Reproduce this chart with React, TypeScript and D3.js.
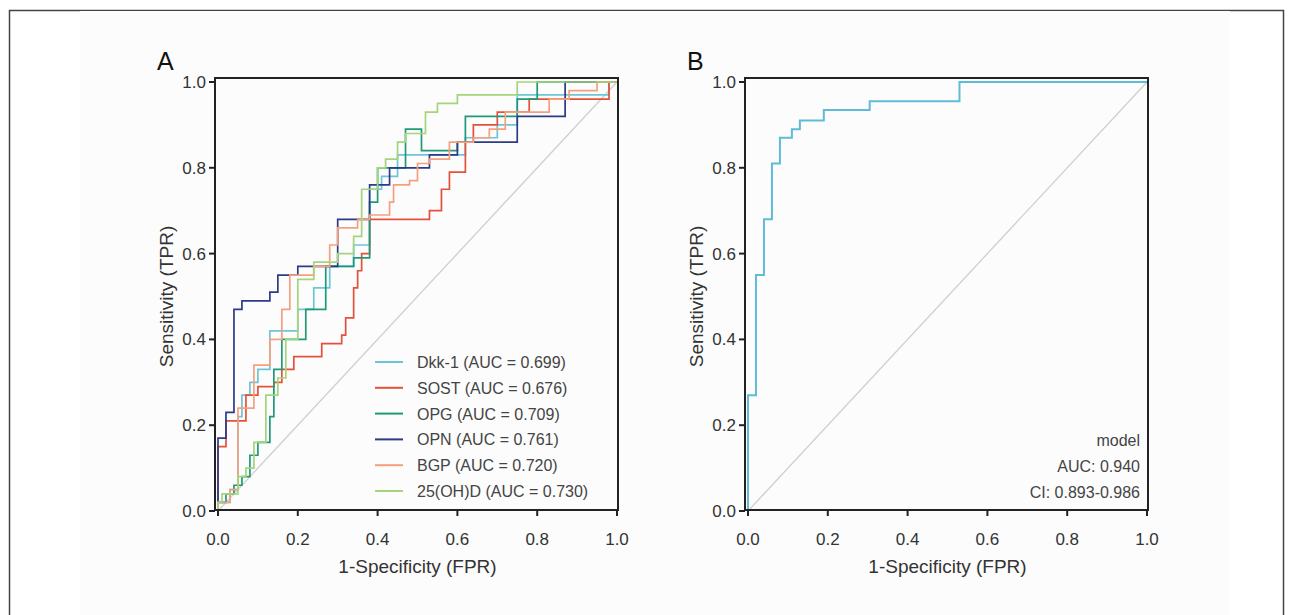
import React from 'react';
import * as d3 from 'd3';

type Pt = [number, number];

// ROC step points (fpr, tpr); drawn with curveStepBefore
const dkk1: Pt[] = [[0, 0], [0.03, 0.02], [0.05, 0.05], [0.06, 0.22], [0.08, 0.27], [0.1, 0.3], [0.13, 0.33], [0.2, 0.42], [0.24, 0.47], [0.28, 0.52], [0.34, 0.57], [0.38, 0.62], [0.41, 0.75], [0.45, 0.78], [0.62, 0.83], [0.7, 0.87], [0.75, 0.9], [0.98, 0.97], [1, 1]];
const sost: Pt[] = [[0, 0], [0.02, 0.15], [0.04, 0.21], [0.07, 0.21], [0.1, 0.27], [0.14, 0.29], [0.16, 0.3], [0.19, 0.33], [0.24, 0.36], [0.26, 0.36], [0.31, 0.39], [0.32, 0.41], [0.34, 0.45], [0.35, 0.52], [0.36, 0.56], [0.38, 0.6], [0.53, 0.68], [0.56, 0.7], [0.58, 0.75], [0.62, 0.79], [0.64, 0.86], [0.7, 0.9], [0.78, 0.93], [0.98, 0.96], [1, 1]];
const opg: Pt[] = [[0, 0], [0.02, 0.02], [0.04, 0.04], [0.06, 0.06], [0.08, 0.08], [0.1, 0.13], [0.13, 0.16], [0.14, 0.22], [0.16, 0.33], [0.22, 0.4], [0.27, 0.47], [0.34, 0.57], [0.38, 0.59], [0.4, 0.72], [0.47, 0.8], [0.51, 0.89], [0.6, 0.84], [0.62, 0.86], [0.75, 0.92], [0.8, 0.96], [1, 1]];
const opn: Pt[] = [[0, 0], [0.02, 0.17], [0.04, 0.23], [0.06, 0.47], [0.13, 0.49], [0.15, 0.51], [0.2, 0.55], [0.3, 0.57], [0.34, 0.68], [0.38, 0.68], [0.43, 0.76], [0.53, 0.8], [0.6, 0.83], [0.75, 0.86], [0.87, 0.92], [0.87, 0.95], [1, 1]];
const bgp: Pt[] = [[0, 0], [0.03, 0.02], [0.05, 0.05], [0.09, 0.24], [0.13, 0.34], [0.16, 0.4], [0.18, 0.47], [0.24, 0.55], [0.28, 0.57], [0.3, 0.62], [0.35, 0.66], [0.38, 0.68], [0.43, 0.69], [0.44, 0.72], [0.48, 0.76], [0.5, 0.77], [0.53, 0.81], [0.58, 0.82], [0.64, 0.86], [0.68, 0.87], [0.72, 0.89], [0.83, 0.93], [0.88, 0.96], [0.95, 0.98], [1, 1]];
const ohd: Pt[] = [[0, 0], [0.01, 0.02], [0.05, 0.04], [0.07, 0.08], [0.09, 0.1], [0.12, 0.16], [0.15, 0.27], [0.17, 0.31], [0.2, 0.4], [0.24, 0.54], [0.3, 0.58], [0.34, 0.6], [0.36, 0.64], [0.4, 0.75], [0.42, 0.8], [0.45, 0.82], [0.47, 0.86], [0.52, 0.88], [0.55, 0.93], [0.6, 0.95], [0.75, 0.97], [1, 1]];
const model: Pt[] = [[0, 0], [0.02, 0.27], [0.04, 0.55], [0.06, 0.68], [0.08, 0.81], [0.11, 0.87], [0.13, 0.89], [0.19, 0.91], [0.305, 0.935], [0.53, 0.955], [1, 1]];

const seriesA = [
  { name: 'Dkk-1', auc: '0.699', color: '#6cc6d6', data: dkk1 },
  { name: 'SOST', auc: '0.676', color: '#e4513b', data: sost },
  { name: 'OPG', auc: '0.709', color: '#1e9a78', data: opg },
  { name: 'OPN', auc: '0.761', color: '#2c3b86', data: opn },
  { name: 'BGP', auc: '0.720', color: '#f4a07e', data: bgp },
  { name: '25(OH)D', auc: '0.730', color: '#a4d47c', data: ohd },
];
const ticks = [0, 0.2, 0.4, 0.6, 0.8, 1.0];
const modelText = ['model', 'AUC: 0.940', 'CI: 0.893-0.986'];

const font = 'Arial, "Liberation Sans", sans-serif';

function Panel({ left, label, children }: { left: number; label: string; children: (x: d3.ScaleLinear<number, number>, y: d3.ScaleLinear<number, number>) => React.ReactNode }) {
  const x = d3.scaleLinear().domain([0, 1]).range([left + 3, left + 402]);
  const y = d3.scaleLinear().domain([0, 1]).range([511, 82]);
  return (
    <g fontFamily={font}>
      <text x={left - 58} y={70} fontSize={25} fill="#111">{label}</text>
      <line x1={x(0)} y1={y(0)} x2={x(1)} y2={y(1)} stroke="#cfcfcf" strokeWidth={1.3} />
      {children(x, y)}
      <rect x={left} y={78} width={403} height={432} fill="none" stroke="#222" strokeWidth={2} />
      {ticks.map(t => (
        <g key={t}>
          <line x1={x(t)} x2={x(t)} y1={510} y2={516} stroke="#222" strokeWidth={2} />
          <text x={x(t)} y={545} fontSize={17} textAnchor="middle" fill="#333">{t.toFixed(1)}</text>
          <line x1={left - 6} x2={left} y1={y(t)} y2={y(t)} stroke="#222" strokeWidth={2} />
          <text x={left - 9} y={y(t) + 6} fontSize={17} textAnchor="end" fill="#333">{t.toFixed(1)}</text>
        </g>
      ))}
      <text x={(x(0) + x(1)) / 2} y={573} fontSize={19} textAnchor="middle" fill="#333">1-Specificity (FPR)</text>
      <text transform={`translate(${left - 42},${(y(0) + y(1)) / 2}) rotate(-90)`} fontSize={19} textAnchor="middle" fill="#333">Sensitivity (TPR)</text>
    </g>
  );
}

export default function App() {
  const line = (x: d3.ScaleLinear<number, number>, y: d3.ScaleLinear<number, number>) =>
    d3.line<Pt>().x(d => x(d[0])).y(d => y(d[1])).curve(d3.curveStepBefore);
  return (
    <svg width={1293} height={615} style={{ position: 'absolute', left: 0, top: 0, background: '#fff' }}>
      <rect x={9.5} y={10.5} width={1274} height={620} fill="none" stroke="#444" strokeWidth={1.5} />
      <rect x={80} y={11} width={1150} height={604} fill="#fcfcfc" />
      <Panel left={215} label="A">
        {(x, y) => (
          <g>
            {seriesA.map(s => (
              <path key={s.name} d={line(x, y)(s.data) || ''} fill="none" stroke={s.color} strokeWidth={1.7} />
            ))}
            {seriesA.map((s, i) => (
              <g key={s.name}>
                <line x1={375} x2={403} y1={362 + i * 25.8} y2={362 + i * 25.8} stroke={s.color} strokeWidth={2} />
                <text x={417} y={368 + i * 25.8} fontSize={16} fill="#444">{`${s.name} (AUC = ${s.auc})`}</text>
              </g>
            ))}
          </g>
        )}
      </Panel>
      <Panel left={745} label="B">
        {(x, y) => (
          <g>
            <path d={line(x, y)(model) || ''} fill="none" stroke="#5fbcd6" strokeWidth={2} />
            {modelText.map((t, i) => (
              <text key={t} x={1140} y={446 + i * 26} fontSize={16} textAnchor="end" fill="#444">{t}</text>
            ))}
          </g>
        )}
      </Panel>
    </svg>
  );
}
